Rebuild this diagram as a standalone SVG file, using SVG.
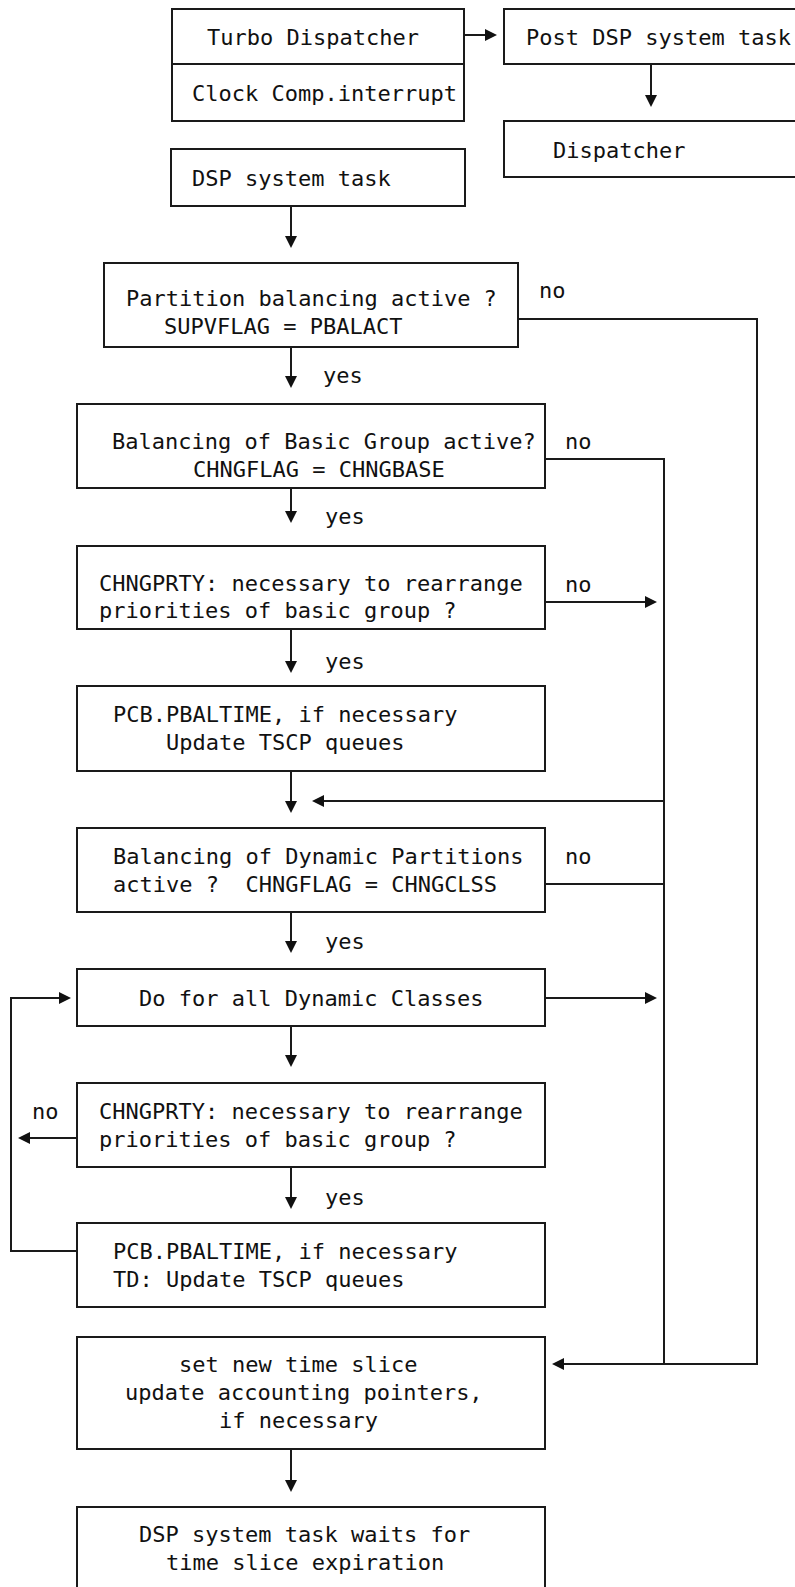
<svg xmlns="http://www.w3.org/2000/svg" width="795" height="1587" viewBox="0 0 795 1587">
<style>
.b{fill:#fff;stroke:#1a1a1a;stroke-width:2}
.t{font-family:"DejaVu Sans Mono","Liberation Mono",monospace;font-size:22px;fill:#111;white-space:pre}
.c{fill:none;stroke:#1a1a1a;stroke-width:2}
.a{marker-end:url(#ah)}
</style>
<defs>
<marker id="ah" viewBox="0 0 12 12" refX="8" refY="6" markerWidth="12" markerHeight="12" markerUnits="userSpaceOnUse" orient="auto">
<path d="M0,0 L12,6 L0,12 z" fill="#111"/>
</marker>
</defs>
<rect width="795" height="1587" fill="#fff"/>
<g id="connectors">
<line class="c a" x1="464" y1="35" x2="493" y2="35"/>
<line class="c a" x1="651" y1="64" x2="651" y2="103"/>
<line class="c a" x1="291" y1="206" x2="291" y2="244"/>
<line class="c a" x1="291" y1="347" x2="291" y2="384"/>
<polyline class="c" points="518,319 757,319 757,1364 664,1364"/>
<line class="c a" x1="291" y1="488" x2="291" y2="519"/>
<polyline class="c" points="545,459 664,459 664,1364"/>
<line class="c a" x1="545" y1="602" x2="653" y2="602"/>
<line class="c a" x1="291" y1="629" x2="291" y2="669"/>
<line class="c a" x1="664" y1="801" x2="316" y2="801"/>
<line class="c a" x1="291" y1="771" x2="291" y2="809"/>
<line class="c" x1="545" y1="884" x2="664" y2="884"/>
<line class="c a" x1="291" y1="912" x2="291" y2="949"/>
<line class="c a" x1="545" y1="998" x2="653" y2="998"/>
<line class="c a" x1="291" y1="1026" x2="291" y2="1063"/>
<line class="c a" x1="77" y1="1138" x2="22" y2="1138"/>
<line class="c a" x1="291" y1="1167" x2="291" y2="1205"/>
<polyline class="c a" points="77,1251 11,1251 11,998 67,998"/>
<line class="c a" x1="664" y1="1364" x2="556" y2="1364"/>
<line class="c a" x1="291" y1="1449" x2="291" y2="1488"/>
<text class="t" x="539" y="298">no</text>
<text class="t" x="323" y="383">yes</text>
<text class="t" x="565" y="449">no</text>
<text class="t" x="325" y="524">yes</text>
<text class="t" x="565" y="592">no</text>
<text class="t" x="325" y="669">yes</text>
<text class="t" x="565" y="864">no</text>
<text class="t" x="325" y="949">yes</text>
<text class="t" x="32" y="1119">no</text>
<text class="t" x="325" y="1205">yes</text>
</g>
<g id="turbo">
<rect class="b" x="172" y="9" width="292" height="112"/>
<line class="c" x1="172" y1="64" x2="464" y2="64"/>
<text class="t" x="207" y="45">Turbo Dispatcher</text>
<text class="t" x="192" y="101">Clock Comp.interrupt</text>
</g>
<g id="post">
<rect class="b" x="504" y="9" width="300" height="55"/>
<text class="t" x="526" y="45">Post DSP system task</text>
</g>
<g id="dispatcher">
<rect class="b" x="504" y="121" width="300" height="56"/>
<text class="t" x="553" y="158">Dispatcher</text>
</g>
<g id="dsptask">
<rect class="b" x="171" y="149" width="294" height="57"/>
<text class="t" x="192" y="186">DSP system task</text>
</g>
<g id="partition">
<rect class="b" x="104" y="263" width="414" height="84"/>
<text class="t" x="126" y="306">Partition balancing active ?</text>
<text class="t" x="164" y="334">SUPVFLAG = PBALACT</text>
</g>
<g id="basicgroup">
<rect class="b" x="77" y="404" width="468" height="84"/>
<text class="t" x="112" y="449">Balancing of Basic Group active?</text>
<text class="t" x="193" y="477">CHNGFLAG = CHNGBASE</text>
</g>
<g id="chngprty1">
<rect class="b" x="77" y="546" width="468" height="83"/>
<text class="t" x="99" y="591">CHNGPRTY: necessary to rearrange</text>
<text class="t" x="99" y="618">priorities of basic group ?</text>
</g>
<g id="pcb1">
<rect class="b" x="77" y="686" width="468" height="85"/>
<text class="t" x="113" y="722">PCB.PBALTIME, if necessary</text>
<text class="t" x="166" y="750">Update TSCP queues</text>
</g>
<g id="dynamic">
<rect class="b" x="77" y="828" width="468" height="84"/>
<text class="t" x="113" y="864">Balancing of Dynamic Partitions</text>
<text class="t" x="113" y="892" xml:space="preserve">active ?  CHNGFLAG = CHNGCLSS</text>
</g>
<g id="doall">
<rect class="b" x="77" y="969" width="468" height="57"/>
<text class="t" x="139" y="1006">Do for all Dynamic Classes</text>
</g>
<g id="chngprty2">
<rect class="b" x="77" y="1083" width="468" height="84"/>
<text class="t" x="99" y="1119">CHNGPRTY: necessary to rearrange</text>
<text class="t" x="99" y="1147">priorities of basic group ?</text>
</g>
<g id="pcb2">
<rect class="b" x="77" y="1223" width="468" height="84"/>
<text class="t" x="113" y="1259">PCB.PBALTIME, if necessary</text>
<text class="t" x="113" y="1287">TD: Update TSCP queues</text>
</g>
<g id="settime">
<rect class="b" x="77" y="1337" width="468" height="112"/>
<text class="t" x="179" y="1372">set new time slice</text>
<text class="t" x="125" y="1400">update accounting pointers,</text>
<text class="t" x="219" y="1428">if necessary</text>
</g>
<g id="wait">
<rect class="b" x="77" y="1507" width="468" height="90"/>
<text class="t" x="139" y="1542">DSP system task waits for</text>
<text class="t" x="166" y="1570">time slice expiration</text>
</g>
</svg>
